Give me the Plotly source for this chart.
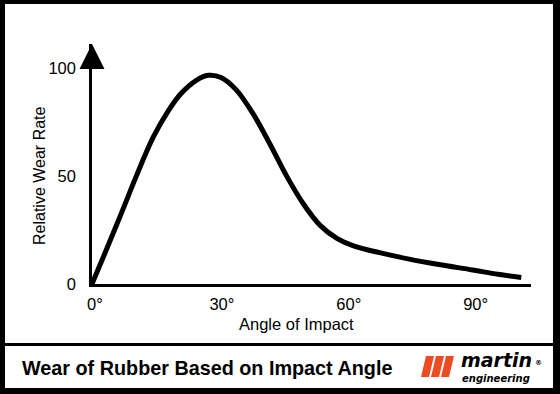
import plotly.graph_objects as go

# ---- data ----
angles = [0, 3, 7, 10.5, 14.5, 18, 21, 24.5, 27.5, 30.5, 34, 38, 42, 46, 50, 54, 58, 62, 68, 75, 82, 90, 96, 101.5]
wear = [0, 14, 33, 50, 68, 80, 88, 94, 96.5, 95.5, 90, 79, 65, 50, 37, 27, 21, 17.5, 14.5, 11.5, 9, 6.5, 4.5, 3]
x_ticks = [0, 30, 60, 90]
x_tick_labels = ["0°", "30°", "60°", "90°"]
y_ticks = [0, 50, 100]
y_tick_labels = ["0", "50", "100"]
x_title = "Angle of Impact"
y_title = "Relative Wear Rate"
caption = "Wear of Rubber Based on Impact Angle"

# ---- layout geometry (pixels) ----
FW, FH = 560, 394
L, R, T, B = 92, 531, 44, 284
PW, PH = R - L, B - T

def px(x):
    return (x - L) / PW

def py(y):
    return (B - y) / PH

FONT = "Liberation Sans, Arial, Helvetica, sans-serif"

fig = go.Figure()
fig.add_trace(go.Scatter(
    x=angles, y=wear, mode="lines",
    line=dict(color="black", width=5, shape="spline", smoothing=1.0),
    hoverinfo="skip", showlegend=False, cliponaxis=False,
))

shapes = []
def rect(x0, y0, x1, y1, color="black"):
    shapes.append(dict(type="rect", xref="paper", yref="paper",
                       x0=px(x0), x1=px(x1), y0=py(y0), y1=py(y1),
                       fillcolor=color, line=dict(width=0), layer="above"))

# frame + divider
rect(0, 0, 5, FH)
rect(553, 0, FW, FH)
rect(0, 0, FW, 4)
rect(0, 388, FW, FH)
rect(0, 343, FW, 346)

# logo bars
def para(xb0, xb1, shift, yt, yb, color):
    pts = [(xb0, yb), (xb1, yb), (xb1 + shift, yt), (xb0 + shift, yt)]
    path = "M " + " L ".join(f"{px(a):.5f},{py(b):.5f}" for a, b in pts) + " Z"
    shapes.append(dict(type="path", xref="paper", yref="paper", path=path,
                       fillcolor=color, line=dict(width=0), layer="above"))

ORANGE = "#EE4B23"
for i in range(3):
    x0 = 421 + i * 10
    para(x0, x0 + 8, 5, 356, 377, ORANGE)

LOGO_FONT = "DejaVu Sans"
annotations = [
    # y axis arrow head
    dict(x=0, y=111, ax=0, ay=100, xref="x", yref="y", axref="x", ayref="y",
         showarrow=True, arrowhead=2, arrowsize=2.0, arrowwidth=2.5,
         arrowcolor="black", text=""),
    dict(x=px(39), y=py(176), xref="paper", yref="paper", text=y_title,
         textangle=-90, showarrow=False, font=dict(family=FONT, size=16, color="black"),
         xanchor="center", yanchor="middle"),
    dict(x=px(296), y=py(324), xref="paper", yref="paper", text=x_title,
         showarrow=False, font=dict(family=FONT, size=16.5, color="black"),
         xanchor="center", yanchor="middle"),
    dict(x=px(20), y=py(368), xref="paper", yref="paper", text=caption,
         showarrow=False, font=dict(family=FONT, size=19.8, color="black", weight="bold"),
         xanchor="left", yanchor="middle"),
    dict(x=px(460), y=py(371.5), xref="paper", yref="paper", text="martin",
         showarrow=False, borderpad=0,
         font=dict(family=LOGO_FONT, size=19, color="black", weight="bold", style="italic"),
         xanchor="left", yanchor="bottom"),
    dict(x=px(461), y=py(371.5), xref="paper", yref="paper", text="engineering",
         showarrow=False, borderpad=0,
         font=dict(family=LOGO_FONT, size=10, color="black", weight="bold", style="italic"),
         xanchor="left", yanchor="top"),
    dict(x=px(534), y=py(363), xref="paper", yref="paper", text="®",
         showarrow=False, borderpad=0,
         font=dict(family=LOGO_FONT, size=7, color="black", weight="bold"),
         xanchor="left", yanchor="middle"),
]

fig.update_layout(
    width=FW, height=FH,
    margin=dict(l=L, r=FW - R, t=T, b=FH - B, pad=0),
    paper_bgcolor="white", plot_bgcolor="white",
    shapes=shapes, annotations=annotations,
    font=dict(family=FONT, size=16, color="black"),
    xaxis=dict(range=[0, 103.8], tickvals=x_ticks, ticktext=x_tick_labels,
               showline=True, linecolor="black", linewidth=2.5, showgrid=False,
               zeroline=False, ticks="", ticklabelstandoff=3, ticklabelshift=3,
               tickfont=dict(family=FONT, size=16.5, color="black"), fixedrange=True),
    yaxis=dict(range=[0, 111], tickvals=y_ticks, ticktext=y_tick_labels,
               showline=True, linecolor="black", linewidth=2.5, showgrid=False,
               zeroline=False, ticks="", ticklabelstandoff=10,
               tickfont=dict(family=FONT, size=16.5, color="black"), fixedrange=True),
)

fig.write_html("out.html", config={"displayModeBar": False},
               post_script="document.body.style.margin='0';document.body.style.overflow='hidden';")
